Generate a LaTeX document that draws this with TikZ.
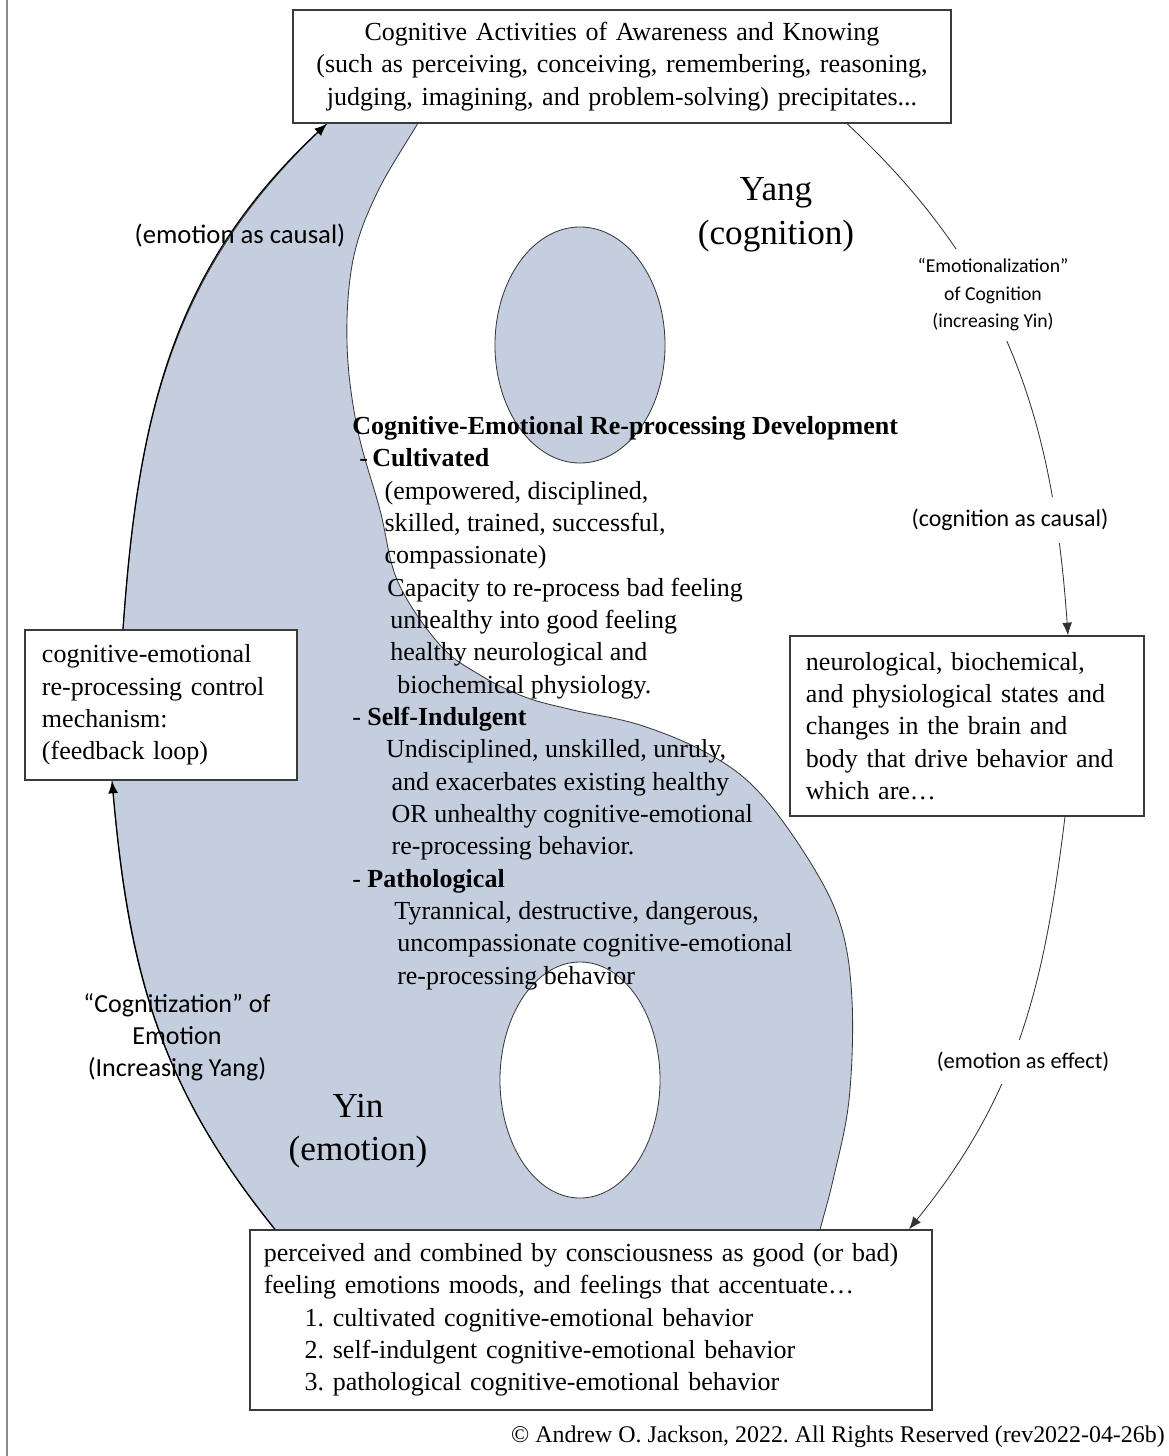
\documentclass[tikz,border=0pt]{standalone}
\usepackage{fontspec}
\setmainfont{Liberation Serif}
\newfontfamily\labelfont{Carlito}
\usepackage{tikz}
\usetikzlibrary{positioning, arrows.meta, calc, backgrounds}
\frenchspacing

\definecolor{yinblue}{RGB}{197,206,223}
\definecolor{edgegray}{HTML}{3A3A3A}
\definecolor{framegray}{HTML}{8A8A8A}

\newcommand{\bodyfont}{\fontsize{18.5}{23}\selectfont}
\newcommand{\bigfont}{\fontsize{25}{31}\selectfont}

\tikzset{
  txtbox/.style={draw=edgegray, line width=0.9pt, fill=white, inner ysep=0pt, font=\bodyfont},
  flow/.style={-{Latex[length=9pt,width=7pt]}, line width=0.9pt},
  thinflow/.style={-{Latex[length=9pt,width=7pt]}, line width=0.6pt, draw=black!80},
}

\begin{document}
\begin{tikzpicture}[x=0.025cm, y=0.025cm]
\useasboundingbox (0,0) rectangle (1169,-1456);
\draw[framegray, line width=1.2pt] (7,0) -- (7,-1456);

% the four boxes round the loop
\node[txtbox, align=center, inner xsep=0.3cm, minimum width=16.45cm, minimum height=2.825cm, text width=15.85cm] (topbox) at (622,-66.5)
  {Cognitive Activities of Awareness and Knowing\\
   (such as perceiving, conceiving, remembering, reasoning,\\
   judging, imagining, and problem-solving) precipitates...};
\node[txtbox, align=left, inner xsep=0.425cm, minimum width=6.8cm, minimum height=3.75cm, text width=5.95cm] (leftbox) at (161,-705)
  {cognitive-emotional\\ re-processing control\\ mechanism:\\ (feedback loop)};
\node[txtbox, align=left, inner xsep=0.4cm, minimum width=8.85cm, minimum height=4.5cm, text width=8.05cm] (rightbox) at (967,-726)
  {neurological, biochemical,\\ and physiological states and\\ changes in the brain and\\ body that drive behavior and\\ which are\ldots};
\node[txtbox, align=left, inner xsep=0.35cm, minimum width=17.05cm, minimum height=4.5cm, text width=16.35cm] (bottombox) at (591,-1320)
  {perceived and combined by consciousness as good (or bad)\\
   feeling emotions moods, and feelings that accentuate\ldots\\
   \hspace*{29pt}1. cultivated cognitive-emotional behavior\\
   \hspace*{29pt}2. self-indulgent cognitive-emotional behavior\\
   \hspace*{29pt}3. pathological cognitive-emotional behavior};

\draw[thinflow] ($(topbox.south)+(225,0)$) to[out=-43, in=94] ($(rightbox.north)+(101,0)$);
\draw[thinflow] ($(rightbox.south)+(98,0)$) to[out=-97, in=51] ($(bottombox.north)+(318,0)$);
\draw[flow] ($(bottombox.north)+(-316,0)$) to[out=129, in=-85] ($(leftbox.south)+(-49,0)$);
\draw[flow] ($(leftbox.north)+(-38,0)$) to[out=86, in=-137] ($(topbox.south)+(-295,0)$);

% labels on the loop
\node[fill=white, inner xsep=2pt, inner ysep=7pt, align=center, font=\labelfont\fontsize{14}{19.5}\selectfont] (emolab) at (993,-295)
  {“Emotionalization”\\ of Cognition\\ (increasing Yin)};
\node[fill=white, inner xsep=2pt, inner ysep=9pt, font=\labelfont\fontsize{17}{20}\selectfont] (coglab) at (1010,-520) {(cognition as causal)};
\node[fill=white, inner xsep=2pt, inner ysep=9pt, font=\labelfont\fontsize{16}{20}\selectfont] (efflab) at (1023,-1062) {(emotion as effect)};
\node[font=\labelfont\fontsize{19}{22}\selectfont] (caulab) at (240,-236) {(emotion as causal)};
\node[align=center, font=\labelfont\fontsize{18.5}{22.7}\selectfont] (yanglab) at (177,-1037)
  {“Cognitization” of\\ Emotion\\ (Increasing Yang)};

\node[align=center, font=\bigfont] (yangtxt) at (776,-215) {Yang\\(cognition)};
\node[align=center, font=\bigfont] (yintxt) at (358,-1131) {Yin\\(emotion)};

\node[anchor=north west, inner sep=0pt, align=left, font=\bodyfont] (devtext) at (352,-416) {%
  \textbf{Cognitive-Emotional Re-processing Development}\\
  \hspace*{5pt}-\,\textbf{Cultivated}\\
  \hspace*{23pt}(empowered, disciplined,\\
  \hspace*{23pt}skilled, trained, successful,\\
  \hspace*{23pt}compassionate)\\
  \hspace*{25pt}Capacity to re-process bad feeling\\
  \hspace*{27pt}unhealthy into good feeling\\
  \hspace*{27pt}healthy neurological and\\
  \hspace*{32pt}biochemical physiology.\\
  - \textbf{Self-Indulgent}\\
  \hspace*{24pt}Undisciplined, unskilled, unruly,\\
  \hspace*{28pt}and exacerbates existing healthy\\
  \hspace*{28pt}OR unhealthy cognitive-emotional\\
  \hspace*{28pt}re-processing behavior.\\
  - \textbf{Pathological}\\
  \hspace*{30pt}Tyrannical, destructive, dangerous,\\
  \hspace*{32pt}uncompassionate cognitive-emotional\\
  \hspace*{32pt}re-processing behavior};

\node[anchor=east, inner sep=0pt, font=\fontsize{17}{20}\selectfont] (copyr) at (1165,-1437)
  {© Andrew O. Jackson, 2022. All Rights Reserved (rev2022-04-26b)};

% yin and yang shapes
\begin{scope}[on background layer]
\filldraw[fill=yinblue, draw=edgegray, line width=0.6pt]
  ($(bottombox.north)+(-316,0)$) to[out=129, in=-85] ($(leftbox.south)+(-49,0)$)
  -- ($(leftbox.north)+(-38,0)$) to[out=86, in=-137] ($(topbox.south)+(-295,0)$)
  -- (327,-80) -- (445,-80)
  -- plot[smooth, tension=0.6] coordinates {(434,-95) (418,-123) (377,-193) (353,-260)
     (347,-343) (357,-427) (380,-510) (398,-582) (440,-645) (480,-675) (525,-697) (573,-710)
     (640,-725) (707,-753) (757,-790) (807,-857) (840,-923) (852,-1000) (849,-1100)
     (833,-1180) (820,-1230) (815,-1255)}
  -- (275,-1255) -- cycle;
\filldraw[fill=yinblue, draw=edgegray, line width=0.6pt] (580,-345) ellipse [x radius=2.125cm, y radius=2.95cm];
\filldraw[fill=white, draw=edgegray, line width=0.6pt] (580,-1080) ellipse [x radius=2cm, y radius=2.95cm];
\end{scope}
\end{tikzpicture}
\end{document}
